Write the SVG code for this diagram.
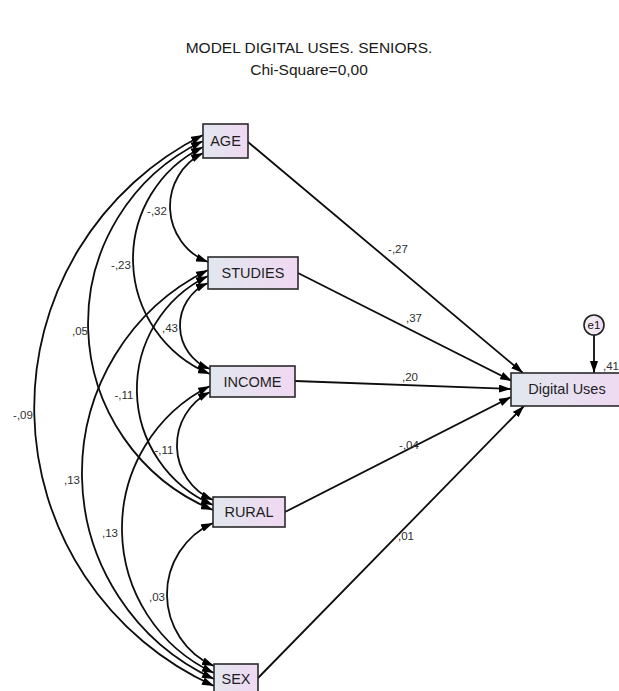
<svg xmlns="http://www.w3.org/2000/svg" width="619" height="691" viewBox="0 0 619 691">
  <defs>
    <linearGradient id="boxFill" x1="0" y1="0" x2="1" y2="0">
      <stop offset="0" stop-color="#e1e7ee"/>
      <stop offset="1" stop-color="#f0d8f2"/>
    </linearGradient>
    <linearGradient id="errFill" x1="0" y1="0" x2="1" y2="0">
      <stop offset="0" stop-color="#f4f2f7"/>
      <stop offset="1" stop-color="#efdcf1"/>
    </linearGradient>
    <marker id="head" markerUnits="userSpaceOnUse" viewBox="0 0 12 8" refX="12" refY="4" markerWidth="12" markerHeight="8" orient="auto-start-reverse">
      <path d="M0,0 L12,4 L0,8 z" fill="#000"/>
    </marker>
  </defs>
  <style>
    .title { font-family: "Liberation Sans", Arial, sans-serif; font-size: 15.5px; fill: #1a1a1a; text-anchor: middle; }
    .box { fill: url(#boxFill); stroke: #2a2a2a; stroke-width: 1.6; }
    .lbl { font-family: "Liberation Sans", Arial, sans-serif; font-size: 14.5px; fill: #1e1e1e; text-anchor: middle; }
    .num { font-family: "Liberation Sans", Arial, sans-serif; font-size: 11.5px; fill: #2e2e2e; text-anchor: middle; }
    .cov { fill: none; stroke: #0d0d0d; stroke-width: 1.8; marker-start: url(#head); marker-end: url(#head); }
    .path { fill: none; stroke: #0d0d0d; stroke-width: 1.8; marker-end: url(#head); }
  </style>

  <text class="title" x="309" y="53">MODEL DIGITAL USES. SENIORS.</text>
  <text class="title" x="309" y="75">Chi-Square=0,00</text>

  <g id="connectors">
    <!-- covariances (double-headed arcs on the left) -->
    <path class="cov" d="M203,135 A305,305 0 0 0 214,686"/>
    <path class="cov" d="M203,141 A202,202 0 0 0 213,510"/>
    <path class="cov" d="M203,147 A124.5,124.5 0 0 0 210,374"/>
    <path class="cov" d="M203,153 A59.7,59.7 0 0 0 208,262"/>
    <path class="cov" d="M208,270 A226.6,226.6 0 0 0 214,679"/>
    <path class="cov" d="M208,276 A125.9,125.9 0 0 0 213,505"/>
    <path class="cov" d="M208,283 A46.4,46.4 0 0 0 210,369"/>
    <path class="cov" d="M210,386 A159.4,159.4 0 0 0 214,673"/>
    <path class="cov" d="M210,392 A59.5,59.5 0 0 0 213,500"/>
    <path class="cov" d="M213,523 A78.2,78.2 0 0 0 214,666"/>
    <!-- regression paths -->
    <path class="path" d="M248,142 L523,373"/>
    <path class="path" d="M298,273 L512,381"/>
    <path class="path" d="M295,381 L511,389"/>
    <path class="path" d="M285,512 L511,397"/>
    <path class="path" d="M258,678 L524,406"/>
    <path class="path" d="M594,335 L594,373"/>
  </g>

  <g id="cov-labels">
    <text class="num" x="157" y="215">-,32</text>
    <text class="num" x="121" y="269">-,23</text>
    <text class="num" x="80" y="335">,05</text>
    <text class="num" x="23" y="419">-,09</text>
    <text class="num" x="170" y="332">,43</text>
    <text class="num" x="124" y="399">-,11</text>
    <text class="num" x="164" y="454">-,11</text>
    <text class="num" x="72" y="484">,13</text>
    <text class="num" x="110" y="537">,13</text>
    <text class="num" x="157" y="601">,03</text>
  </g>

  <g id="path-labels">
    <text class="num" x="398" y="253">-,27</text>
    <text class="num" x="414" y="322">,37</text>
    <text class="num" x="410" y="381">,20</text>
    <text class="num" x="409" y="449">-,04</text>
    <text class="num" x="406" y="540">,01</text>
    <text class="num" x="611" y="370">,41</text>
  </g>

  <g id="age">
    <rect class="box" x="203" y="124" width="45" height="34"/>
    <text class="lbl" x="225.5" y="146">AGE</text>
  </g>
  <g id="studies">
    <rect class="box" x="208" y="257" width="90" height="32"/>
    <text class="lbl" x="253" y="278">STUDIES</text>
  </g>
  <g id="income">
    <rect class="box" x="210" y="366" width="85" height="31"/>
    <text class="lbl" x="252.5" y="387">INCOME</text>
  </g>
  <g id="rural">
    <rect class="box" x="213" y="497" width="72" height="30"/>
    <text class="lbl" x="249" y="517">RURAL</text>
  </g>
  <g id="sex">
    <rect class="box" x="214" y="664" width="44" height="30"/>
    <text class="lbl" x="236" y="684">SEX</text>
  </g>
  <g id="digital-uses">
    <rect class="box" x="511" y="373" width="120" height="33"/>
    <text class="lbl" x="567" y="394">Digital Uses</text>
  </g>
  <g id="e1">
    <circle cx="594" cy="325" r="10" fill="url(#errFill)" stroke="#222" stroke-width="1.6"/>
    <text class="num" x="594" y="329" style="fill:#111">e1</text>
  </g>
</svg>
